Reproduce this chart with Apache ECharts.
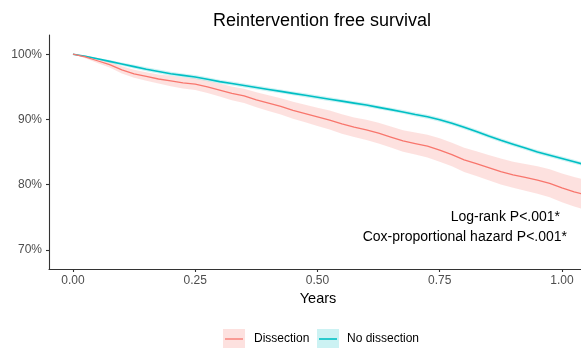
<!DOCTYPE html>
<html>
<head>
<meta charset="utf-8">
<script src="https://cdn.jsdelivr.net/npm/echarts@6/dist/echarts.min.js"></script>
<style>
  html, body { margin: 0; padding: 0; background: #fff; }
  #chart { width: 581px; height: 348px; }
</style>
</head>
<body>
<div id="chart"></div>
<script>
  // time in years
  var years = [0, 0.025, 0.05, 0.075, 0.1, 0.125, 0.15, 0.175, 0.2, 0.225, 0.25, 0.275, 0.3, 0.325, 0.35,
    0.375, 0.4, 0.425, 0.45, 0.475, 0.5, 0.525, 0.55, 0.575, 0.6, 0.625, 0.65, 0.675, 0.7, 0.725, 0.75,
    0.775, 0.8, 0.825, 0.85, 0.875, 0.9, 0.925, 0.95, 0.975, 1.0, 1.025, 1.05]

  // Dissection (%)
  var dissection = [100, 99.6, 99.0, 98.4, 97.6, 97.0, 96.6, 96.2, 95.9, 95.6, 95.4, 95.0, 94.5, 94.0, 93.6,
    93.0, 92.5, 92.0, 91.4, 90.9, 90.4, 89.9, 89.3, 88.8, 88.4, 87.9, 87.3, 86.7, 86.3, 85.9, 85.3,
    84.6, 83.8, 83.2, 82.6, 82.0, 81.5, 81.1, 80.7, 80.2, 79.5, 78.9, 78.4]
  var dissectionUpper = [100, 99.8, 99.35, 98.85, 98.15, 97.6, 97.25, 96.9, 96.7, 96.45, 96.3, 95.95, 95.5, 95.05, 94.7,
    94.15, 93.7, 93.25, 92.7, 92.25, 91.8, 91.35, 90.8, 90.3, 89.95, 89.5, 88.9, 88.35, 88.0, 87.65, 87.1,
    86.4, 85.65, 85.1, 84.55, 84.0, 83.5, 83.15, 82.8, 82.35, 81.7, 81.15, 80.7]
  var dissectionLower = [100, 99.4, 98.65, 97.95, 97.05, 96.4, 95.95, 95.5, 95.1, 94.75, 94.5, 94.05, 93.5, 92.95, 92.5,
    91.85, 91.3, 90.75, 90.1, 89.55, 89.0, 88.45, 87.8, 87.3, 86.85, 86.3, 85.7, 85.05, 84.6, 84.15, 83.5,
    82.8, 81.95, 81.3, 80.65, 80.0, 79.5, 79.05, 78.6, 78.05, 77.3, 76.65, 76.1]

  // No dissection (%)
  var noDissection = [100, 99.7, 99.3, 98.9, 98.5, 98.1, 97.7, 97.35, 97.0, 96.75, 96.5, 96.15, 95.8, 95.5, 95.2,
    94.9, 94.6, 94.3, 94.0, 93.7, 93.4, 93.1, 92.8, 92.5, 92.2, 91.85, 91.5, 91.15, 90.75, 90.4, 89.95,
    89.4, 88.8, 88.15, 87.45, 86.8, 86.2, 85.6, 85.0, 84.5, 84.0, 83.5, 83.0]
  var noDissectionUpper = [100, 99.8, 99.45, 99.1, 98.75, 98.4, 98.0, 97.65, 97.3, 97.05, 96.8, 96.45, 96.1, 95.8, 95.5,
    95.2, 94.9, 94.6, 94.3, 94.0, 93.7, 93.4, 93.1, 92.8, 92.5, 92.15, 91.8, 91.45, 91.05, 90.7, 90.25,
    89.7, 89.1, 88.45, 87.75, 87.1, 86.5, 85.9, 85.3, 84.8, 84.3, 83.8, 83.3]
  var noDissectionLower = [100, 99.6, 99.15, 98.7, 98.25, 97.8, 97.4, 97.05, 96.7, 96.45, 96.2, 95.85, 95.5, 95.2, 94.9,
    94.6, 94.3, 94.0, 93.7, 93.4, 93.1, 92.8, 92.5, 92.2, 91.9, 91.55, 91.2, 90.85, 90.45, 90.1, 89.65,
    89.1, 88.5, 87.85, 87.15, 86.5, 85.9, 85.3, 84.7, 84.2, 83.7, 83.2, 82.7]

  var xTicks = [0, 0.25, 0.5, 0.75, 1.0]
  var yTicks = [70, 80, 90, 100]

  var RED = '#F8766D'
  var TEAL = '#00BFC4'
  var FONT = 'Liberation Sans, Arial, sans-serif'

  function pairs(ys) {
    return years.map(function (t, i) { return [t, ys[i]] })
  }

  // confidence band drawn as one polygon through the axes' scales
  function band(name, upper, lower, fill) {
    return {
      name: name,
      type: 'custom',
      clip: true,
      silent: true,
      data: [0],
      renderItem: function (params, api) {
        var pts = []
        for (var i = 0; i < years.length; i++) pts.push(api.coord([years[i], upper[i]]))
        for (var j = years.length - 1; j >= 0; j--) pts.push(api.coord([years[j], lower[j]]))
        return {
          type: 'polygon',
          shape: { points: pts },
          style: { fill: fill, stroke: null }
        }
      },
      z: 1
    }
  }

  var chart = echarts.init(document.getElementById('chart'))

  var option = {
    animation: false,
    backgroundColor: '#fff',
    textStyle: { fontFamily: FONT },
    title: {
      text: 'Reintervention free survival',
      left: 317,
      top: 7,
      textAlign: 'center',
      textStyle: { fontFamily: FONT, fontSize: 18, fontWeight: 'normal', color: '#000' }
    },
    grid: { left: 49, top: 35, right: 0, bottom: 79, containLabel: false },
    xAxis: {
      type: 'value',
      min: -0.049,
      max: 1.039,
      name: 'Years',
      nameLocation: 'middle',
      nameGap: 21,
      nameTextStyle: { fontFamily: FONT, fontSize: 14.5, color: '#000', padding: [0, 0, 0, 6] },
      splitLine: { show: false },
      axisLine: { onZero: false, lineStyle: { color: '#333', width: 1.1 } },
      axisTick: { customValues: xTicks, length: 3, lineStyle: { color: '#333', width: 1.1 } },
      axisLabel: {
        customValues: xTicks,
        margin: 6,
        fontSize: 12,
        color: '#4D4D4D',
        formatter: function (v) { return v.toFixed(2) }
      }
    },
    yAxis: {
      type: 'value',
      min: 67.05,
      max: 102.95,
      splitLine: { show: false },
      axisLine: { show: true, onZero: false, lineStyle: { color: '#333', width: 1.1 } },
      axisTick: { show: true, customValues: yTicks, length: 3, lineStyle: { color: '#333', width: 1.1 } },
      axisLabel: {
        customValues: yTicks,
        margin: 7,
        fontSize: 12,
        color: '#4D4D4D',
        formatter: function (v) { return v + '%' }
      }
    },
    series: [
      band('Dissection band', dissectionUpper, dissectionLower, 'rgba(248,118,109,0.22)'),
      band('No dissection band', noDissectionUpper, noDissectionLower, 'rgba(0,191,196,0.2)'),
      {
        name: 'No dissection',
        type: 'line',
        data: pairs(noDissection),
        showSymbol: false,
        lineStyle: { color: TEAL, width: 1.6 },
        itemStyle: { color: TEAL },
        z: 3
      },
      {
        name: 'Dissection',
        type: 'line',
        data: pairs(dissection),
        showSymbol: false,
        lineStyle: { color: RED, width: 1.3 },
        itemStyle: { color: RED },
        z: 4
      }
    ],
    graphic: [
      // annotations
      { type: 'text', right: 21, top: 210, style: { text: 'Log-rank P<.001*', font: '14px ' + FONT, fill: '#000' } },
      { type: 'text', right: 14, top: 230, style: { text: 'Cox-proportional hazard P<.001*', font: '14px ' + FONT, fill: '#000' } },
      // legend
      { type: 'rect', shape: { x: 223, y: 329, width: 22, height: 20 }, style: { fill: 'rgba(248,118,109,0.22)' } },
      { type: 'line', shape: { x1: 225, y1: 339, x2: 243, y2: 339 }, style: { stroke: RED, lineWidth: 1.3 } },
      { type: 'text', x: 254, y: 339, style: { text: 'Dissection', font: '12px ' + FONT, fill: '#000', verticalAlign: 'middle' } },
      { type: 'rect', shape: { x: 317, y: 329, width: 22, height: 20 }, style: { fill: 'rgba(0,191,196,0.2)' } },
      { type: 'line', shape: { x1: 319, y1: 339, x2: 337, y2: 339 }, style: { stroke: TEAL, lineWidth: 1.6 } },
      { type: 'text', x: 347, y: 339, style: { text: 'No dissection', font: '12px ' + FONT, fill: '#000', verticalAlign: 'middle' } }
    ]
  }

  chart.setOption(option)
</script>
</body>
</html>
